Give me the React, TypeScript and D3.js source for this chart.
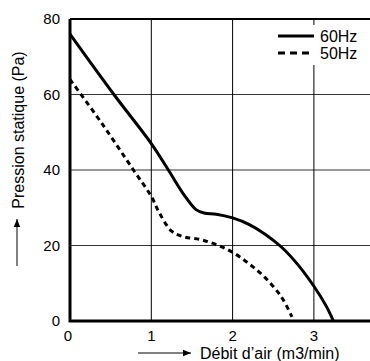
import { useEffect, useRef } from "react";
import * as d3 from "d3";

// courbes débit / pression
const debit60 = [0, 0.54, 1, 1.21, 1.4, 1.55, 1.65, 1.8, 2, 2.2, 2.4, 2.6, 2.8, 3, 3.15, 3.24];
const pression60 = [76, 60, 47, 40, 33.5, 29.5, 28.6, 28.3, 27.3, 25.6, 23, 19.6, 15, 9.2, 4, 0];
const debit50 = [0, 0.39, 0.78, 1, 1.1, 1.25, 1.4, 1.6, 1.8, 2, 2.2, 2.4, 2.6, 2.73];
const pression50 = [64, 52.4, 40, 33, 28.6, 23.8, 22.3, 21.6, 20.2, 18.2, 15.2, 11.5, 6.4, 1.1];
const xTicks = [0, 1, 2, 3];
const yTicks = [0, 20, 40, 60, 80];
const series = ["60Hz", "50Hz"];

const App = () => {
  const ref = useRef<SVGSVGElement | null>(null);

  useEffect(() => {
    if (!ref.current) return;
    const svg = d3.select(ref.current);
    svg.selectAll("*").remove();

    const left = 70, top = 19, bottom = 321, right = 370;
    const x = d3.scaleLinear().domain([0, 3.69]).range([left, right]);
    const y = d3.scaleLinear().domain([0, 80]).range([bottom, top]);
    const font = "'Liberation Sans', Arial, sans-serif";

    // grille
    svg.append("g")
      .selectAll("line")
      .data(yTicks.filter((t) => t > 0 && t < 80))
      .enter()
      .append("line")
      .attr("x1", left).attr("x2", right)
      .attr("y1", (d) => y(d)).attr("y2", (d) => y(d))
      .attr("stroke", "#333").attr("stroke-width", 1);

    svg.append("g")
      .selectAll("line")
      .data(xTicks.filter((t) => t > 0))
      .enter()
      .append("line")
      .attr("x1", (d) => x(d)).attr("x2", (d) => x(d))
      .attr("y1", top).attr("y2", bottom)
      .attr("stroke", "#000").attr("stroke-width", 1);

    // cadre
    svg.append("line")
      .attr("x1", left).attr("x2", right).attr("y1", top).attr("y2", top)
      .attr("stroke", "#000").attr("stroke-width", 2);
    svg.append("path")
      .attr("d", `M${left},${top}V${bottom}H${right}`)
      .attr("fill", "none").attr("stroke", "#000").attr("stroke-width", 3);

    // légende (fond blanc)
    const lg = svg.append("g");
    lg.append("rect").attr("x", 274).attr("y", 25).attr("width", 90).attr("height", 40).attr("fill", "#fff");
    series.forEach((s, i) => {
      const ly = 36 + i * 17;
      lg.append("line")
        .attr("x1", 278).attr("x2", 314).attr("y1", ly).attr("y2", ly)
        .attr("stroke", "#000").attr("stroke-width", 3)
        .attr("stroke-dasharray", i === 1 ? "7,5" : null);
      lg.append("text")
        .attr("x", 320).attr("y", ly).attr("dy", "0.35em")
        .style("font-family", font).style("font-size", "16px")
        .text(s);
    });

    // courbes
    const line = d3.line<[number, number]>()
      .x((d) => x(d[0])).y((d) => y(d[1]))
      .curve(d3.curveCatmullRom.alpha(0.5));

    const d60 = debit60.map((v, i) => [v, pression60[i]] as [number, number]);
    const d50 = debit50.map((v, i) => [v, pression50[i]] as [number, number]);

    svg.append("path").attr("d", line(d60)).attr("fill", "none")
      .attr("stroke", "#000").attr("stroke-width", 3);
    svg.append("path").attr("d", line(d50)).attr("fill", "none")
      .attr("stroke", "#000").attr("stroke-width", 3).attr("stroke-dasharray", "5,4");

    // graduations
    svg.append("g")
      .selectAll("text")
      .data(yTicks)
      .enter()
      .append("text")
      .attr("x", 60).attr("y", (d) => y(d)).attr("dy", "0.35em")
      .attr("text-anchor", "end")
      .style("font-family", font).style("font-size", "15px")
      .text((d) => d);

    svg.append("g")
      .selectAll("text")
      .data(xTicks)
      .enter()
      .append("text")
      .attr("x", (d) => x(d) - (d === 0 ? 2 : 0)).attr("y", 336).attr("dy", "0.35em")
      .attr("text-anchor", "middle")
      .style("font-family", font).style("font-size", "15px")
      .text((d) => d);

    // titres des axes avec flèches
    svg.append("defs").append("marker")
      .attr("id", "fleche").attr("viewBox", "0 0 10 10")
      .attr("refX", 10).attr("refY", 5)
      .attr("markerWidth", 8).attr("markerHeight", 8)
      .attr("markerUnits", "userSpaceOnUse")
      .attr("orient", "auto")
      .append("path").attr("d", "M0,1L10,5L0,9Z").attr("fill", "#000");

    svg.append("line")
      .attr("x1", 138).attr("x2", 191).attr("y1", 353).attr("y2", 353)
      .attr("stroke", "#000").attr("stroke-width", 1)
      .attr("marker-end", "url(#fleche)");
    svg.append("text")
      .attr("x", 200).attr("y", 353).attr("dy", "0.35em")
      .style("font-family", font).style("font-size", "16px")
      .text("Débit d’air (m3/min)");

    svg.append("line")
      .attr("x1", 17).attr("x2", 17).attr("y1", 266).attr("y2", 219)
      .attr("stroke", "#000").attr("stroke-width", 1)
      .attr("marker-end", "url(#fleche)");
    svg.append("text")
      .attr("transform", `translate(18,130) rotate(-90)`)
      .attr("dy", "0.35em")
      .attr("text-anchor", "middle")
      .style("font-family", font).style("font-size", "16px")
      .text("Pression statique (Pa)");
  }, []);

  return (
    <svg
      ref={ref}
      width={370}
      height={361}
      style={{ position: "absolute", left: 0, top: 0, background: "#fff" }}
    />
  );
};

export default App;
